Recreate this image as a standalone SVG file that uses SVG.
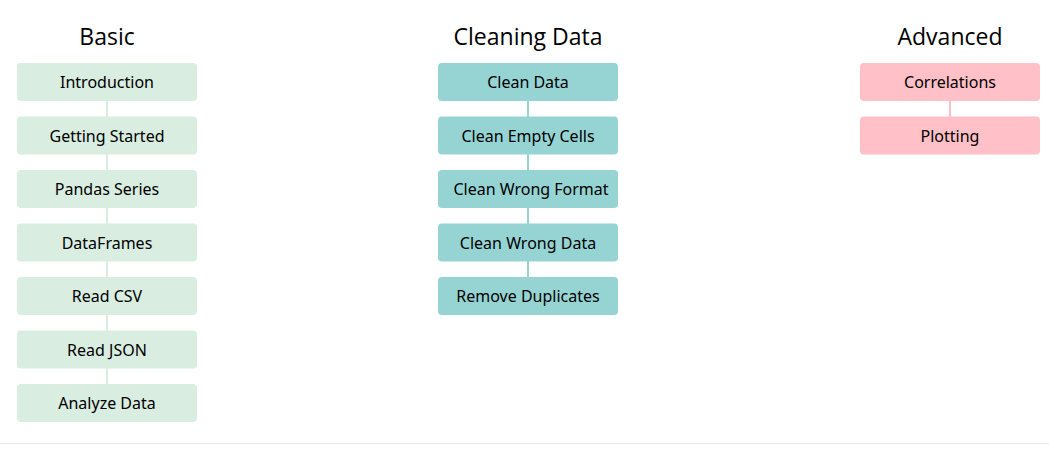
<svg xmlns="http://www.w3.org/2000/svg" width="1049" height="455" viewBox="0 0 1049 455">
<style>
.h{font-family:"Open Sans","Noto Sans",sans-serif;font-size:23px;fill:#000;text-anchor:middle}
.t{font-family:"Noto Sans","Open Sans",sans-serif;font-size:16px;fill:#000;text-anchor:middle;dominant-baseline:central}
.b rect{fill:#d9ede0}
.c rect{fill:#96d4d4}
.a rect{fill:#ffc0c7}
.cb{stroke:#d9ede0;stroke-width:2}
.cc{stroke:#96d4d4;stroke-width:2}
.ca{stroke:#ffc0c7;stroke-width:2}
</style>
<rect width="1049" height="455" fill="#fff"/>
<text class="h" x="107" y="45">Basic</text>
<text class="h" x="528" y="45">Cleaning Data</text>
<text class="h" x="950" y="45">Advanced</text>
<g id="connectors">
<line class="cb" x1="107" y1="101" x2="107" y2="385"/>
<line class="cc" x1="528" y1="101" x2="528" y2="278"/>
<line class="ca" x1="950" y1="101" x2="950" y2="118"/>
</g>
<g id="basic-introduction" class="b"><rect x="17" y="63" width="180" height="38" rx="4"/><text class="t" x="107" y="82">Introduction</text></g>
<g id="basic-getting-started" class="b"><rect x="17" y="116.5" width="180" height="38" rx="4"/><text class="t" x="107" y="135.5">Getting Started</text></g>
<g id="basic-pandas-series" class="b"><rect x="17" y="170" width="180" height="38" rx="4"/><text class="t" x="107" y="189">Pandas Series</text></g>
<g id="basic-dataframes" class="b"><rect x="17" y="223.5" width="180" height="38" rx="4"/><text class="t" x="107" y="242.5">DataFrames</text></g>
<g id="basic-read-csv" class="b"><rect x="17" y="277" width="180" height="38" rx="4"/><text class="t" x="107" y="296">Read CSV</text></g>
<g id="basic-read-json" class="b"><rect x="17" y="330.5" width="180" height="38" rx="4"/><text class="t" x="107" y="349.5">Read JSON</text></g>
<g id="basic-analyze-data" class="b"><rect x="17" y="384" width="180" height="38" rx="4"/><text class="t" x="107" y="403">Analyze Data</text></g>
<g id="clean-data" class="c"><rect x="438" y="63" width="180" height="38" rx="4"/><text class="t" x="528" y="82">Clean Data</text></g>
<g id="clean-empty-cells" class="c"><rect x="438" y="116.5" width="180" height="38" rx="4"/><text class="t" x="528" y="135.5">Clean Empty Cells</text></g>
<g id="clean-wrong-format" class="c"><rect x="438" y="170" width="180" height="38" rx="4"/><text class="t" x="531" y="189">Clean Wrong Format</text></g>
<g id="clean-wrong-data" class="c"><rect x="438" y="223.5" width="180" height="38" rx="4"/><text class="t" x="528" y="242.5">Clean Wrong Data</text></g>
<g id="remove-duplicates" class="c"><rect x="438" y="277" width="180" height="38" rx="4"/><text class="t" x="528" y="296">Remove Duplicates</text></g>
<g id="adv-correlations" class="a"><rect x="860" y="63" width="180" height="38" rx="4"/><text class="t" x="950" y="82">Correlations</text></g>
<g id="adv-plotting" class="a"><rect x="860" y="116.5" width="180" height="38" rx="4"/><text class="t" x="950" y="135.5">Plotting</text></g>
<line x1="0" y1="443.5" x2="1049" y2="443.5" stroke="#e8e8e8" stroke-width="1"/>
</svg>
